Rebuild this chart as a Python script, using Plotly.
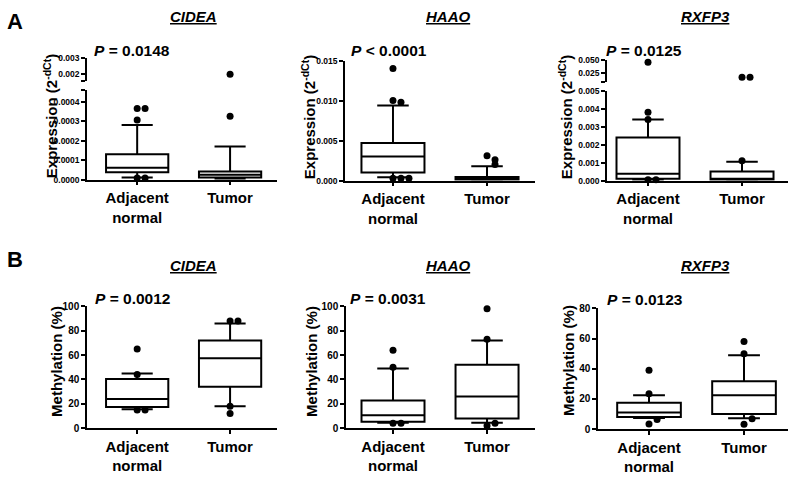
import plotly.graph_objects as go

FONT = "Arial, Liberation Sans, sans-serif"

groups = ["<b>Adjacent</b><br><b>normal</b>", "<b>Tumor</b>"]
genes = ["CIDEA", "HAAO", "RXFP3"]
p_expr = ["<i>P</i> = 0.0148", "<i>P</i> < 0.0001", "<i>P</i> = 0.0125"]
p_meth = ["<i>P</i> = 0.0012", "<i>P</i> = 0.0031", "<i>P</i> = 0.0123"]

# box stats per group: lower whisker, q1, median, q3, upper whisker  (rows: adjacent, tumor)
cidea_expr_box = [[0.00001, 0.000037, 0.00006, 0.00013, 0.00028],
                  [0.0, 0.00001, 0.000025, 0.000042, 0.00017]]
cidea_expr_out = [[0.000365, 0.000365, 0.000305, 0.000008, 0.000008],
                  [0.000325, 0.002]]

haao_expr_box = [[0.0004, 0.001, 0.003, 0.0047, 0.0094],
                 [0.0, 0.0001, 0.0002, 0.00045, 0.0018]]
haao_expr_out = [[0.014, 0.0100, 0.0098, 0.0003, 0.0003, 0.0003],
                 [0.0031, 0.0026, 0.0020]]

rxfp3_expr_box = [[0.00005, 0.0001, 0.00038, 0.0024, 0.0034],
                  [0.00002, 0.00005, 0.0001, 0.0005, 0.00105]]
rxfp3_expr_out = [[0.045, 0.0038, 0.0034, 0.00005, 0.00005],
                  [0.016, 0.016, 0.0011]]

cidea_meth_box = [[15.5, 17.5, 24, 40.5, 45],
                  [18, 34, 57.5, 72, 86]]
cidea_meth_out = [[65, 44, 15, 15],
                  [88, 88, 18, 12]]

haao_meth_box = [[4.5, 5.3, 10.7, 22.7, 49],
                 [4.5, 8, 26, 52, 72]]
haao_meth_out = [[64, 50, 4, 4],
                 [98, 73, 2, 4]]

rxfp3_meth_box = [[7.5, 8.1, 11, 17.5, 22.5],
                  [7.3, 10, 22.5, 31.8, 49]]
rxfp3_meth_out = [[39, 23.5, 3.5, 6.5],
                  [58, 50, 3.3, 7]]

# tick values
cidea_ticks = [0, 0.0001, 0.0002, 0.0003, 0.0004]
cidea_ticks_up = [0.002, 0.003]
haao_ticks = [0, 0.005, 0.010, 0.015]
rxfp3_ticks = [0, 0.001, 0.002, 0.003, 0.004, 0.005]
rxfp3_ticks_up = [0.025, 0.050]
meth_ticks = [0, 20, 40, 60, 80, 100]
meth_ticks_80 = [0, 20, 40, 60, 80]

W, H = 800, 483


def px_x(v):
    return v / W


def px_y(v):
    return 1 - v / H


panels = [
    dict(box=cidea_expr_box, out=cidea_expr_out, x=(87, 277), xr=(-0.54, 1.505),
         y=(86, 178), yr=(0, 0.00046), tv=cidea_ticks, fmt="{:.4f}", fs=8.5,
         up=dict(y=(53, 77), yr=(0.00159, 0.003), tv=cidea_ticks_up, fmt="{:.3f}")),
    dict(box=haao_expr_box, out=haao_expr_out, x=(345, 535), xr=(-0.51, 1.51),
         y=(56, 179), yr=(0, 0.015), tv=haao_ticks, fmt="{:.3f}", fs=8.5, up=None),
    dict(box=rxfp3_expr_box, out=rxfp3_expr_out, x=(607, 788), xr=(-0.436, 1.489),
         y=(87, 179), yr=(0, 0.005), tv=rxfp3_ticks, fmt="{:.3f}", fs=8.5,
         up=dict(y=(55, 78), yr=(0.0068, 0.05), tv=rxfp3_ticks_up, fmt="{:.3f}")),
    dict(box=cidea_meth_box, out=cidea_meth_out, x=(87, 277), xr=(-0.54, 1.505),
         y=(308, 433), yr=(0, 100), tv=meth_ticks, fmt="{:g}", fs=10, up=None),
    dict(box=haao_meth_box, out=haao_meth_out, x=(346, 535), xr=(-0.5, 1.51),
         y=(308, 433), yr=(0, 100), tv=meth_ticks, fmt="{:g}", fs=10, up=None),
    dict(box=rxfp3_meth_box, out=rxfp3_meth_out, x=(598, 788), xr=(-0.537, 1.463),
         y=(310, 434), yr=(0, 80), tv=meth_ticks_80, fmt="{:g}", fs=10, up=None),
]


def dodge(vals, k, thr):
    xs, placed = [], []
    for v in vals:
        c = sum(1 for pv in placed if abs(pv - v) < thr)
        xs.append(k + 0.085 * c)
        placed.append(v)
    return xs


def yaxis_style(tv, fmt, fs, cap=None):
    style = dict(tickvals=list(tv), ticktext=[f"<b>{fmt.format(v)}</b>" for v in tv],
                 showline=True, linecolor="black", linewidth=1.5, ticks="outside",
                 ticklen=4, tickwidth=1.5, tickcolor="black", showgrid=False,
                 zeroline=False, tickfont=dict(size=fs, color="black", family=FONT))
    if cap is not None:
        # end cap of a broken axis segment
        style["minor"] = dict(tickvals=[cap], ticks="outside", ticklen=4,
                              tickwidth=1.5, tickcolor="black", showgrid=False)
    return style


fig = go.Figure()
layout = {}
extra = 7
for i, p in enumerate(panels):
    n = i + 1
    xa = "x" if n == 1 else f"x{n}"
    ya = "y" if n == 1 else f"y{n}"
    xkey = "xaxis" if n == 1 else f"xaxis{n}"
    ykey = "yaxis" if n == 1 else f"yaxis{n}"
    y0, y1 = p["y"]
    thr = (p["yr"][1] - p["yr"][0]) * 7 / (y1 - y0)
    up = p["up"]
    if up:
        xu, yu = f"x{extra}", f"y{extra}"
        thr_up = (up["yr"][1] - up["yr"][0]) * 7 / (up["y"][1] - up["y"][0])

    for k in range(2):
        lo, q1, med, q3, hi = p["box"][k]
        fig.add_trace(go.Box(
            x=[k], lowerfence=[lo], q1=[q1], median=[med], q3=[q3], upperfence=[hi],
            width=0.67, whiskerwidth=0.5, fillcolor="white", boxpoints=False,
            line=dict(color="black", width=2), xaxis=xa, yaxis=ya, hoverinfo="skip"))
        low_pts = [v for v in p["out"][k] if v <= p["yr"][1]]
        high_pts = [v for v in p["out"][k] if v > p["yr"][1]]
        if low_pts:
            fig.add_trace(go.Scatter(
                x=dodge(low_pts, k, thr), y=low_pts, mode="markers",
                marker=dict(color="black", size=7), cliponaxis=False,
                xaxis=xa, yaxis=ya, hoverinfo="skip"))
        if high_pts and up:
            fig.add_trace(go.Scatter(
                x=dodge(high_pts, k, thr_up), y=high_pts, mode="markers",
                marker=dict(color="black", size=7), cliponaxis=False,
                xaxis=xu, yaxis=yu, hoverinfo="skip"))

    layout[xkey] = dict(
        domain=[px_x(p["x"][0]), px_x(p["x"][1])], range=list(p["xr"]), anchor=ya,
        tickvals=[0, 1], ticktext=groups, showline=True, linecolor="black",
        linewidth=1.5, ticks="outside", ticklen=4, tickwidth=1.5, tickcolor="black",
        showgrid=False, zeroline=False, fixedrange=True,
        tickfont=dict(size=15, color="black", family=FONT))
    ystyle = yaxis_style(p["tv"], p["fmt"], p["fs"], cap=p["yr"][1] if up else None)
    layout[ykey] = dict(domain=[px_y(y1), px_y(y0)], range=list(p["yr"]), anchor=xa,
                        **ystyle)
    if up:
        layout[f"xaxis{extra}"] = dict(
            domain=[px_x(p["x"][0]), px_x(p["x"][1])], range=list(p["xr"]),
            anchor=yu, visible=False)
        ustyle = yaxis_style(up["tv"], up["fmt"], p["fs"], cap=up["yr"][0])
        layout[f"yaxis{extra}"] = dict(
            domain=[px_y(up["y"][1]), px_y(up["y"][0])], range=list(up["yr"]),
            anchor=xu, **ustyle)
        extra += 1

annotations = []


def note(text, x, y, size, xanchor="center", angle=0):
    annotations.append(dict(
        text=text, x=px_x(x), y=px_y(y), xref="paper", yref="paper",
        xanchor=xanchor, yanchor="middle", showarrow=False, textangle=angle,
        font=dict(size=size, color="black", family=FONT)))


note("<b>A</b>", 15, 16, 22)
note("<b>B</b>", 15, 260, 22)
for g, cx in zip(genes, [193, 448, 705]):
    note(f"<b><i><u>{g}</u></i></b>", cx, 11, 15)
    note(f"<b><i><u>{g}</u></i></b>", cx, 266, 15)
for t, lx in zip(p_expr, [92, 349, 604]):
    note(f"<b>{t}</b>", lx, 46, 15.5, xanchor="left")
for t, lx, ly in zip(p_meth, [93, 348, 605], [300, 300, 301]):
    note(f"<b>{t}</b>", lx, ly, 15.5, xanchor="left")
for cx, cy in [(50, 113), (308, 114), (565, 114)]:
    note("<b>Expression (2<sup>-dCt</sup>)</b>", cx, cy, 15, angle=-90)
for cx, cy in [(57, 364), (312, 365), (569, 364)]:
    note("<b>Methylation (%)</b>", cx, cy, 15, angle=-90)

fig.update_layout(
    width=W, height=H, margin=dict(l=0, r=0, t=0, b=0),
    paper_bgcolor="white", plot_bgcolor="white", showlegend=False,
    font=dict(family=FONT, color="black"),
    annotations=annotations, **layout)

# drop the browser's default body margin so the figure sits at the page origin
fig.write_html("out.html", config={"displayModeBar": False},
               post_script="document.body.style.margin='0';")
